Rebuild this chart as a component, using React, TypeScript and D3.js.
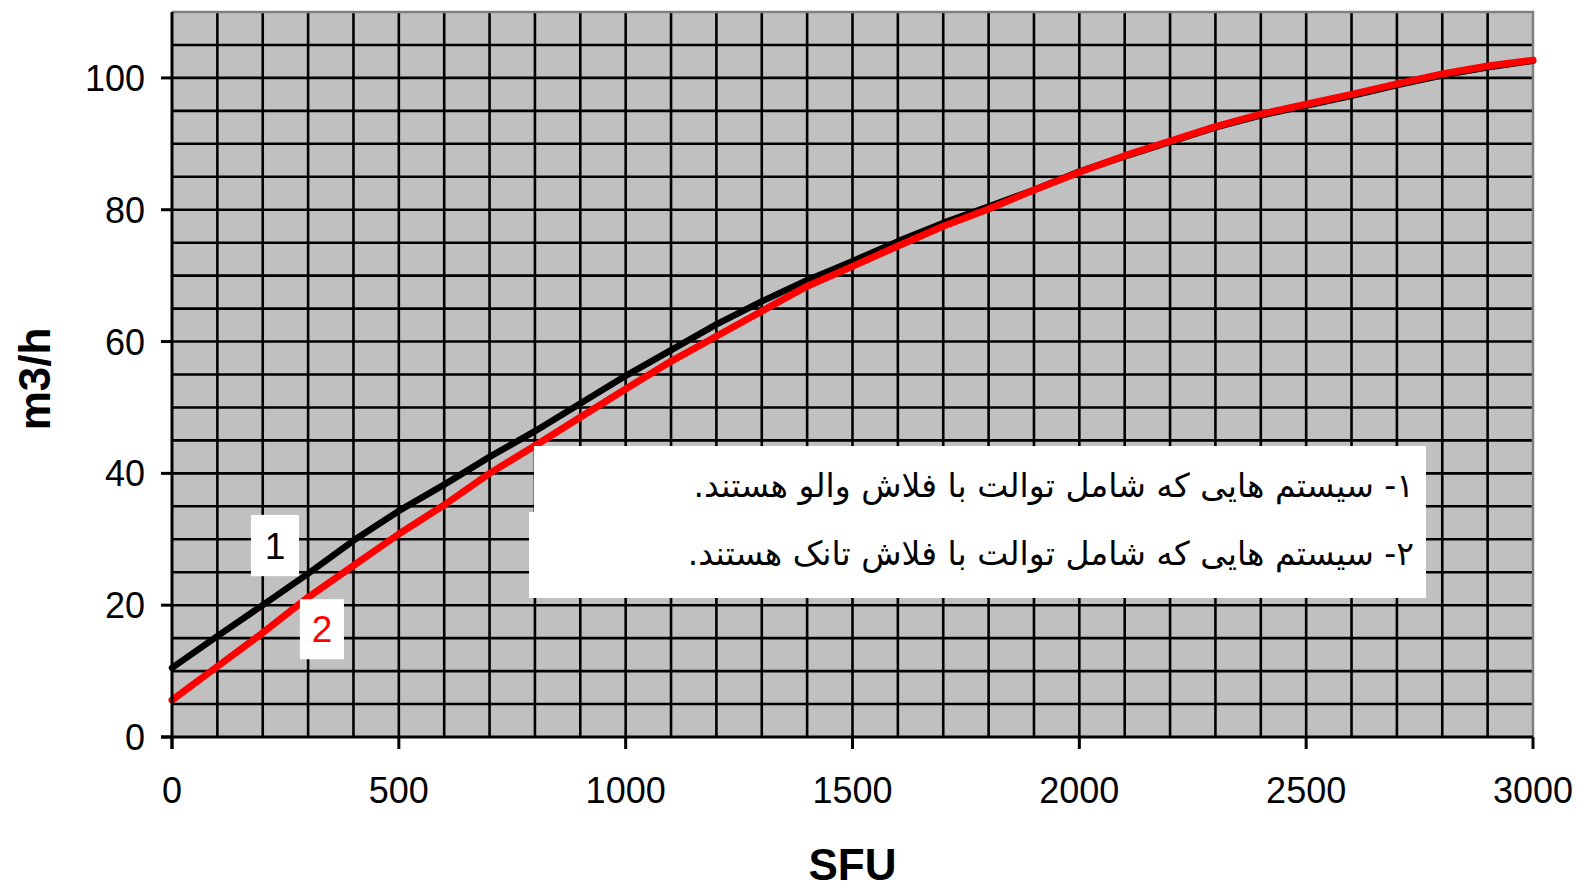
import React from "react";
import * as d3 from "d3";

// SFU on the x axis
const sfuValues = [
  0, 100, 200, 300, 400, 500, 600, 700, 800, 900, 1000,
  1100, 1200, 1300, 1400, 1500, 1600, 1700, 1800, 1900, 2000,
  2100, 2200, 2300, 2400, 2500, 2600, 2700, 2800, 2900, 3000,
];

// curve 1: flush valve systems (m3/h)
const flushValveFlow = [
  10.5, 15.3, 20.0, 24.8, 29.8, 34.3, 38.3, 42.5, 46.4, 50.6, 54.8,
  58.7, 62.6, 66.1, 69.3, 72.2, 75.2, 78.0, 80.5, 83.0, 85.8,
  88.1, 90.3, 92.5, 94.3, 95.8, 97.3, 98.9, 100.4, 101.6, 102.6,
];

// curve 2: flush tank systems (m3/h)
const flushTankFlow = [
  5.6, 10.7, 15.8, 21.2, 26.0, 30.8, 35.2, 40.0, 44.2, 48.5, 52.8,
  57.0, 60.8, 64.6, 68.4, 71.4, 74.5, 77.5, 80.1, 83.0, 85.7,
  88.2, 90.4, 92.6, 94.5, 96.0, 97.5, 99.1, 100.6, 101.8, 102.7,
];

const xTicks = [0, 500, 1000, 1500, 2000, 2500, 3000];
const yTicks = [0, 20, 40, 60, 80, 100];

const legendLines = [
  "۱- سیستم هایی که شامل توالت با فلاش والو هستند.",
  "۲- سیستم هایی که شامل توالت با فلاش تانک هستند.",
];

// curve number tags: [label, sfu left, sfu right, value top, value bottom]
const curveTags: [string, number, number, number, number][] = [
  ["1", 174, 280, 33.7, 24.4],
  ["2", 282, 379, 20.9, 11.8],
];

const W = 1578;
const H = 888;
const plot = { left: 172, right: 1533, top: 12, bottom: 737 };
const arial = "'Liberation Sans', Arial, sans-serif";

const App: React.FC = () => {
  const x = d3.scaleLinear().domain([0, 3000]).range([plot.left, plot.right]);
  const y = d3.scaleLinear().domain([0, 110]).range([plot.bottom, plot.top]);

  const line = d3
    .line<number>()
    .x((_, i) => x(sfuValues[i]))
    .y((d) => y(d));

  const vGrid = d3.range(100, 3000, 100);
  const hGrid = d3.range(5, 110, 5);

  return (
    <svg
      width={W}
      height={H}
      style={{ position: "absolute", left: 0, top: 0, background: "#fff" }}
    >
      <rect
        x={plot.left}
        y={plot.top}
        width={plot.right - plot.left}
        height={plot.bottom - plot.top}
        fill="#c0c0c0"
      />
      {/* grid */}
      <g stroke="#000" strokeWidth={2.6}>
        {vGrid.map((v) => (
          <line key={`v${v}`} x1={x(v)} x2={x(v)} y1={plot.top} y2={plot.bottom} />
        ))}
        {hGrid.map((v) => (
          <line key={`h${v}`} x1={plot.left} x2={plot.right} y1={y(v)} y2={y(v)} />
        ))}
      </g>
      {/* top and right border */}
      <path
        d={`M${plot.left},${plot.top}H${plot.right}V${plot.bottom}`}
        fill="none"
        stroke="#808080"
        strokeWidth={2.5}
      />

      {/* curves */}
      <path
        d={line(flushValveFlow) ?? ""}
        fill="none"
        stroke="#000"
        strokeWidth={6.5}
        strokeLinejoin="round"
        strokeLinecap="round"
      />
      <path
        d={line(flushTankFlow) ?? ""}
        fill="none"
        stroke="#ff0000"
        strokeWidth={7}
        strokeLinejoin="round"
        strokeLinecap="round"
      />

      {/* axes */}
      <g stroke="#000" strokeWidth={3}>
        <line x1={plot.left} x2={plot.left} y1={plot.top} y2={plot.bottom + 12} />
        <line x1={plot.left - 11} x2={plot.right} y1={plot.bottom} y2={plot.bottom} />
        {xTicks.map((t) => (
          <line key={`xt${t}`} x1={x(t)} x2={x(t)} y1={plot.bottom} y2={plot.bottom + 12} />
        ))}
        {yTicks.map((t) => (
          <line key={`yt${t}`} x1={plot.left - 11} x2={plot.left} y1={y(t)} y2={y(t)} />
        ))}
      </g>
      <g fontFamily={arial} fontSize={36} fill="#000">
        {xTicks.map((t) => (
          <text key={`xl${t}`} x={x(t)} y={803} textAnchor="middle">
            {t}
          </text>
        ))}
        {yTicks.map((t) => (
          <text key={`yl${t}`} x={145} y={y(t) + 13} textAnchor="end">
            {t}
          </text>
        ))}
      </g>
      <text
        x={x(1500)}
        y={880}
        textAnchor="middle"
        fontFamily={arial}
        fontWeight="bold"
        fontSize={44}
      >
        SFU
      </text>
      <text
        transform={`translate(50, ${379}) rotate(-90)`}
        textAnchor="middle"
        fontFamily={arial}
        fontWeight="bold"
        fontSize={44}
      >
        m3/h
      </text>

      {/* legend box */}
      <rect x={534} y={446} width={892} height={68} fill="#fff" />
      <rect x={529} y={512} width={897} height={86} fill="#fff" />
      <g fontFamily="'DejaVu Sans', 'Noto Sans', sans-serif" fontSize={33} fill="#000">
        {legendLines.map((t, i) => (
          <text
            key={t}
            x={1414}
            y={497 + i * 68}
            textAnchor="start"
            style={{ direction: "rtl", unicodeBidi: "embed" }}
          >
            {t}
          </text>
        ))}
      </g>

      {/* curve tags */}
      {curveTags.map(([label, s0, s1, v0, v1], i) => (
        <g key={label}>
          <rect x={x(s0)} y={y(v0)} width={x(s1) - x(s0)} height={y(v1) - y(v0)} fill="#fff" />
          <text
            x={(x(s0) + x(s1)) / 2}
            y={(y(v0) + y(v1)) / 2 + 13}
            textAnchor="middle"
            fontFamily={arial}
            fontSize={37}
            fill={i === 0 ? "#000" : "#ff0000"}
          >
            {label}
          </text>
        </g>
      ))}
    </svg>
  );
};

export default App;
